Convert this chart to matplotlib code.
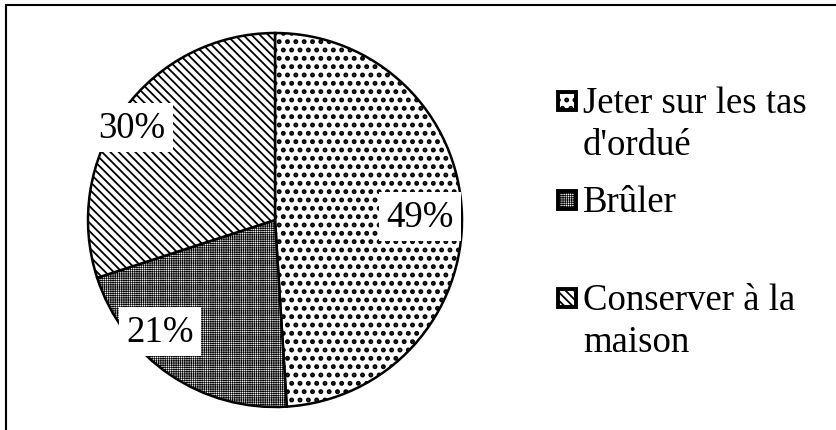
import matplotlib
matplotlib.use('Agg')
import matplotlib.pyplot as plt
from matplotlib.patches import Rectangle

# données du graphique (traitement des ordures)
categories = ["Jeter sur les tas\nd'ordué", "Brûler", "Conserver à la\nmaison"]
valeurs = [49, 21, 30]

# style des secteurs (motifs noir et blanc)
motifs = ['..', '+++++++++', '\\\\\\\\']
epaisseur_motif = [2.3, 0.45, 1.3]

W, H = 836, 431
plt.rcParams['font.family'] = ['Liberation Serif', 'DejaVu Serif']
plt.rcParams['hatch.color'] = 'black'

fig = plt.figure(figsize=(W / 100, H / 100), dpi=100)
ax = fig.add_axes([0, 0, 1, 1])

wedges, _, pcts = ax.pie(valeurs, center=(275, H - 221), radius=187,
                         startangle=90, counterclock=False,
                         colors=['white'] * len(valeurs),
                         autopct='%.0f%%',
                         wedgeprops=dict(edgecolor='black', linewidth=1.8),
                         textprops=dict(fontsize=26.5))

for w, m, lw in zip(wedges, motifs, epaisseur_motif):
    w.set_hatch(m)
    if hasattr(w, 'set_hatch_linewidth'):
        w.set_hatch_linewidth(lw)

# position des étiquettes (pixels, origine en haut à gauche)
pos_pct = [(420, 227), (160, 342), (132, 138)]
for t, (x, y) in zip(pcts, pos_pct):
    t.set_position((x, H - y))
    t.set_ha('center')
    t.set_va('baseline')
    t.set_bbox(dict(boxstyle='square,pad=0.2', facecolor='white', edgecolor='none'))

# légende faite à la main
base_leg = [113, 212, 310]
for lab, m, lw, b in zip(categories, motifs, epaisseur_motif, base_leg):
    r = Rectangle((558, H - b + 2), 18, 18, facecolor='white', edgecolor='black',
                  linewidth=2.8, hatch=m)
    if hasattr(r, 'set_hatch_linewidth'):
        r.set_hatch_linewidth(lw)
    ax.add_patch(r)
    for k, ligne in enumerate(lab.split('\n')):
        ax.text(583, H - b - 42 * k, ligne, fontsize=26.5, ha='left', va='baseline')

# cadre
ax.add_patch(Rectangle((6, -20), 900, H - 6 + 20, fill=False,
                       edgecolor='black', linewidth=1.5, clip_on=False))

ax.set_xlim(0, W)
ax.set_ylim(0, H)
ax.set_aspect('auto')
ax.set_axis_off()

fig.savefig('out.png', dpi=100)
